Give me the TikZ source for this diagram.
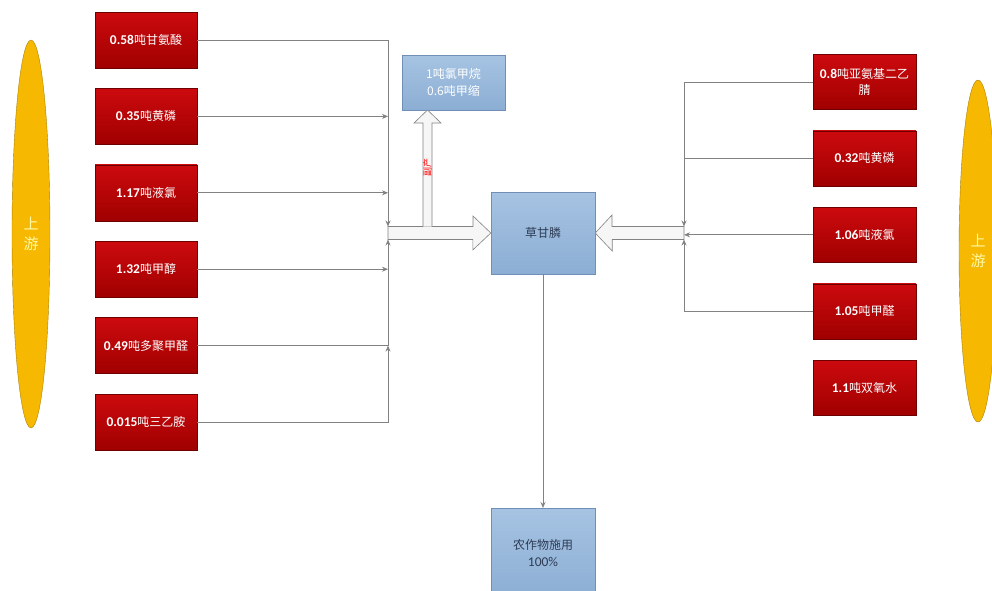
\documentclass[tikz,border=0pt]{standalone}
\usepackage{fontspec}
\setmainfont{Carlito}[Scale=1.12]
\newfontfamily\cjk{Noto Sans CJK SC}
\usetikzlibrary{arrows.meta,positioning,shapes.geometric,calc}

\definecolor{rawred}{RGB}{204,10,14}
\definecolor{rawdark}{RGB}{160,0,0}
\definecolor{prodtop}{RGB}{166,195,226}
\definecolor{prodbot}{RGB}{140,174,212}
\definecolor{prodedge}{RGB}{112,142,182}
\definecolor{prodtext}{RGB}{45,60,85}
\definecolor{upgold}{RGB}{246,184,0}
\definecolor{flowgray}{RGB}{130,130,130}

\newcommand{\amount}[2]{{\bfseries #1}{\cjk #2}}

\begin{document}
\begin{tikzpicture}[x=1pt,y=-1pt,>={Stealth[length=6pt,width=5pt]},node distance=20pt,
    raw/.style={rectangle,draw=rawdark!70!black,top color=rawred,bottom color=rawdark,text=white,
      minimum width=102pt,minimum height=56pt,inner sep=2pt,font=\fontsize{12}{16}\selectfont,align=center},
    prod/.style={rectangle,draw=prodedge,top color=prodtop,bottom color=prodbot,text=prodtext,
      minimum width=104pt,inner sep=2pt,font=\fontsize{12}{17}\selectfont,align=center},
    upstream/.style={ellipse,draw=upgold!70!black,fill=upgold,text=yellow!35,inner sep=0pt,
      minimum width=38pt,font=\cjk\fontsize{15}{20}\selectfont,align=center},
    flow/.style={draw=flowgray,line width=0.7pt},
    fat/.style={draw=flowgray,fill=gray!7,line width=0.6pt,line join=miter}]
  \useasboundingbox (0,0) rectangle (992,590);
  \clip (0,0) rectangle (992,590);

  % upstream
  \node[upstream,minimum height=388pt] (upL) at (31,234) {上\\游};
  \node[upstream,minimum height=342pt] (upR) at (978,251) {上\\游};

  % raw materials, left
  \node[raw] (l1) at (146,40) {\amount{0.58}{吨甘氨酸}};
  \node[raw] [below=of l1] (l2) {\amount{0.35}{吨黄磷}};
  \node[raw] [below=of l2] (l3) {\amount{1.17}{吨液氯}};
  \node[raw] [below=of l3] (l4) {\amount{1.32}{吨甲醇}};
  \node[raw] [below=of l4] (l5) {\amount{0.49}{吨多聚甲醛}};
  \node[raw] [below=of l5] (l6) {\amount{0.015}{吨三乙胺}};

  % raw materials, right
  \node[raw,minimum height=55pt,minimum width=103pt] (r1) at (864.5,82) {\amount{0.8}{吨亚氨基二乙}\\{\cjk 腈}};
  \node[raw,minimum height=55pt,minimum width=103pt] [below=21pt of r1] (r2) {\amount{0.32}{吨黄磷}};
  \node[raw,minimum height=55pt,minimum width=103pt] [below=21pt of r2] (r3) {\amount{1.06}{吨液氯}};
  \node[raw,minimum height=55pt,minimum width=103pt] [below=21pt of r3] (r4) {\amount{1.05}{吨甲醛}};
  \node[raw,minimum height=55pt,minimum width=103pt] [below=21pt of r4] (r5) {\amount{1.1}{吨双氧水}};

  % products
  \node[prod,minimum height=82pt] (cgl) at (543,233) {\cjk 草甘膦};
  \node[prod,minimum width=103pt,minimum height=55pt,text=white] (byp) at (453.5,82.5) {{\cjk 1吨氯甲烷}\\{\cjk 0.6吨甲缩}};
  \node[prod,minimum height=90pt,anchor=north] (crop) at (543,508) {\cjk 农作物施用\\100\%};

  \coordinate (hubL) at (388,226.5);
  \coordinate (hubLb) at (388,239.5);
  \coordinate (hubR) at (684,226.5);
  \coordinate (hubRb) at (684,239.5);
  \coordinate (bytip) at (427.5,110);

  % fat arrows
  \draw[fat] (hubL) -- ++(85,0) -- ++(0,-10.5) -- (cgl.west) -- ++(-18,17) -- ++(0,-10.5) -- (hubLb) -- cycle;
  \draw[fat] (423,226.5) -- (423,123) -- (414,123) -- (bytip) -- (441,123) -- (432,123) -- (432,226.5);
  \node[text=red,rotate=90,font=\cjk\fontsize{9}{9}\selectfont,inner sep=0pt] (bylab) at (427.5,167) {副产};
  \draw[fat] (hubR) -- ++(-72,0) -- ++(0,-11.5) -- (cgl.east) -- ++(17,18) -- ++(0,-11.5) -- (hubRb) -- cycle;

  % left feed lines
  \draw[flow,->] (l1.east) -| (hubL);
  \draw[flow,->] (l2.east) -- (l2.east -| hubL);
  \draw[flow,->] (l3.east) -- (l3.east -| hubL);
  \draw[flow,->] (l4.east) -- (l4.east -| hubL);
  \draw[flow,->] (l5.east) -| (hubLb);
  \draw[flow,->] (l6.east) -| (l5.east -| hubL);

  % right feed lines
  \draw[flow,->] (r1.west) -| (hubR);
  \draw[flow] (r2.west) -- (r2.west -| hubR);
  \draw[flow,->] (r3.west) -- (r3.west -| hubR);
  \draw[flow,->] (r4.west) -| (hubRb);

  % to the field
  \draw[flow,->] (cgl.south) -- (crop.north);
\end{tikzpicture}
\end{document}
